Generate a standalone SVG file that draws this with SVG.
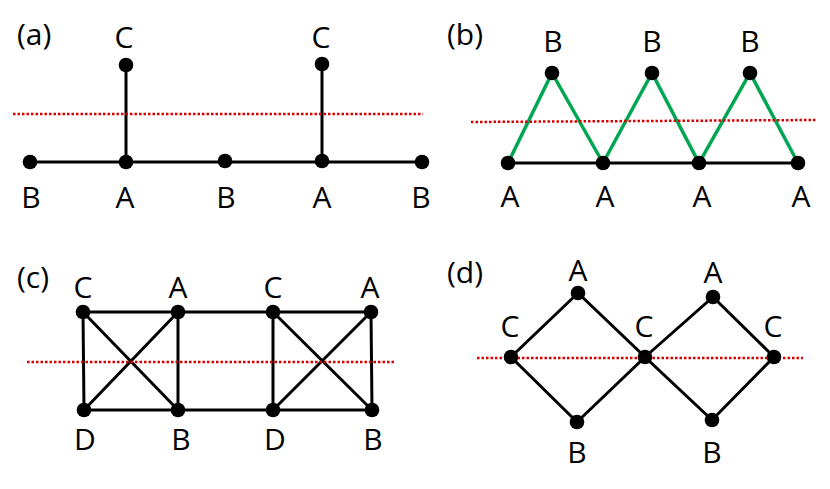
<svg xmlns="http://www.w3.org/2000/svg" width="830" height="489" viewBox="0 0 830 489">
<style>
.e{stroke:#000;stroke-width:3;fill:none;stroke-linecap:round}
.g{stroke:#00a651;stroke-width:3.5;fill:none}
.r{stroke:#d80000;stroke-width:2.5;stroke-dasharray:2.5 2;fill:none}
.n{fill:#000}
text{font-family:"Open Sans","Noto Sans","DejaVu Sans",sans-serif;font-size:30px;fill:#000;text-anchor:middle}
.p{text-anchor:start}
</style>
<rect width="830" height="489" fill="#fff"/>
<g id="connectors">
<path class="e" d="M30 162H422M126 162V65M322 162V64"/>
<path class="e" d="M508 163H798"/>
<path class="g" d="M508 163L552 73L603 163L652 73L699 163L750 73L798 163"/>
<path class="e" d="M83 312H371M84 410H372M83 312L84 410M178 312V410M273 312V410M371 312L372 410M83 312L178 410M178 312L84 410M273 312L372 410M371 312L273 410"/>
<path class="e" d="M511 357L578 293L645 357L577 422ZM645 357L713 297L774 357L712 420Z"/>
<path class="r" d="M13 114H423"/>
<path class="r" d="M471 122L816 120"/>
<path class="r" d="M27 362H396"/>
<path class="r" d="M477 358H803"/>
</g>
<g id="panel-a">
<text class="p" x="17" y="45">(a)</text>
<g id="a-B1"><circle class="n" cx="30" cy="162" r="7.3"/><text x="31" y="208">B</text></g>
<g id="a-A1"><circle class="n" cx="126" cy="162" r="7.3"/><text x="125" y="208">A</text></g>
<g id="a-B2"><circle class="n" cx="225" cy="161" r="7.3"/><text x="226" y="208">B</text></g>
<g id="a-A2"><circle class="n" cx="322" cy="161" r="7.3"/><text x="322" y="208">A</text></g>
<g id="a-B3"><circle class="n" cx="422" cy="162" r="7.3"/><text x="421" y="208">B</text></g>
<g id="a-C1"><circle class="n" cx="126" cy="65" r="7.3"/><text x="124" y="48">C</text></g>
<g id="a-C2"><circle class="n" cx="322" cy="64" r="7.3"/><text x="321" y="48">C</text></g>
</g>
<g id="panel-b">
<text class="p" x="447" y="45">(b)</text>
<g id="b-A1"><circle class="n" cx="508" cy="163" r="7.3"/><text x="510" y="207">A</text></g>
<g id="b-A2"><circle class="n" cx="603" cy="163" r="7.3"/><text x="605" y="207">A</text></g>
<g id="b-A3"><circle class="n" cx="699" cy="163" r="7.3"/><text x="702" y="207">A</text></g>
<g id="b-A4"><circle class="n" cx="798" cy="163" r="7.3"/><text x="801" y="207">A</text></g>
<g id="b-B1"><circle class="n" cx="552" cy="73" r="7.3"/><text x="553" y="52">B</text></g>
<g id="b-B2"><circle class="n" cx="652" cy="73" r="7.3"/><text x="652" y="52">B</text></g>
<g id="b-B3"><circle class="n" cx="750" cy="73" r="7.3"/><text x="750" y="52">B</text></g>
</g>
<g id="panel-c">
<text class="p" x="17" y="288">(c)</text>
<g id="c-C1"><circle class="n" cx="83" cy="312" r="7.3"/><text x="83" y="298">C</text></g>
<g id="c-A1"><circle class="n" cx="178" cy="312" r="7.3"/><text x="178" y="298">A</text></g>
<g id="c-C2"><circle class="n" cx="273" cy="312" r="7.3"/><text x="273" y="298">C</text></g>
<g id="c-A2"><circle class="n" cx="371" cy="312" r="7.3"/><text x="370" y="298">A</text></g>
<g id="c-D1"><circle class="n" cx="84" cy="410" r="7.3"/><text x="85" y="450">D</text></g>
<g id="c-B1"><circle class="n" cx="178" cy="410" r="7.3"/><text x="181" y="450">B</text></g>
<g id="c-D2"><circle class="n" cx="273" cy="410" r="7.3"/><text x="275" y="450">D</text></g>
<g id="c-B2"><circle class="n" cx="372" cy="410" r="7.3"/><text x="373" y="450">B</text></g>
</g>
<g id="panel-d">
<text class="p" x="447" y="283">(d)</text>
<g id="d-C1"><circle class="n" cx="511" cy="357" r="7.3"/><text x="510" y="337">C</text></g>
<g id="d-A1"><circle class="n" cx="578" cy="293" r="7.3"/><text x="578" y="281">A</text></g>
<g id="d-C2"><circle class="n" cx="645" cy="357" r="7.3"/><text x="644" y="337">C</text></g>
<g id="d-B1"><circle class="n" cx="577" cy="422" r="7.3"/><text x="577" y="463">B</text></g>
<g id="d-A2"><circle class="n" cx="713" cy="297" r="7.3"/><text x="713" y="283">A</text></g>
<g id="d-C3"><circle class="n" cx="774" cy="357" r="7.3"/><text x="773" y="337">C</text></g>
<g id="d-B2"><circle class="n" cx="712" cy="420" r="7.3"/><text x="712" y="463">B</text></g>
</g>
</svg>
